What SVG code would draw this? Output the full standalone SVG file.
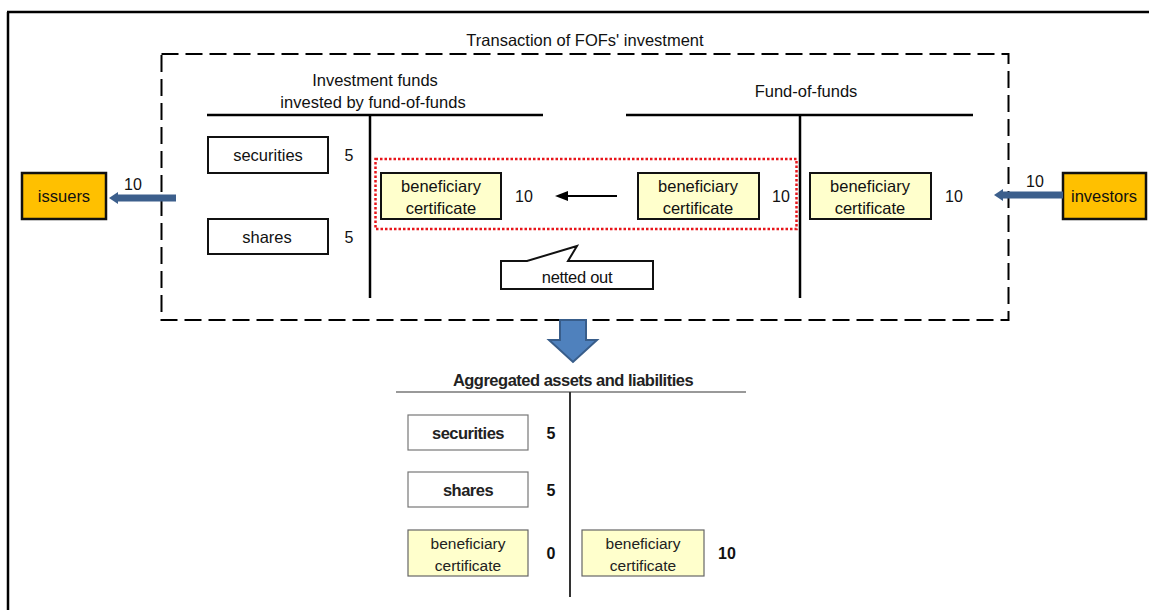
<svg xmlns="http://www.w3.org/2000/svg" width="1149" height="610" viewBox="0 0 1149 610">
<defs>
<style>
text{font-family:"Liberation Sans",Arial,sans-serif;fill:#111;}
.t{font-size:16.5px;text-anchor:middle;}
.n{font-size:16px;text-anchor:middle;}
.box{fill:#fff;stroke:#111;stroke-width:2;}
.bc{fill:#FFFFCC;stroke:#111;stroke-width:2;}
.org{fill:#FFC000;stroke:#111;stroke-width:2.5;}
.box2{fill:#fff;stroke:#777;stroke-width:1.2;}
.bc2{fill:#FFFFCC;stroke:#666;stroke-width:1.2;}
.tl{stroke:#000;stroke-width:2.5;fill:none;}
.blue{stroke:#3C5F8C;stroke-width:7;fill:none;}
.b2{font-size:16.5px;text-anchor:middle;font-weight:bold;letter-spacing:-0.5px;fill:#222;}
.b3{font-size:15.5px;text-anchor:middle;fill:#222;}
</style>
<marker id="bh" markerWidth="9" markerHeight="12" refX="1" refY="6" orient="auto" markerUnits="userSpaceOnUse">
<path d="M0,0 L9,6 L0,12 Z" fill="#3C5F8C"/>
</marker>
<marker id="ah" markerWidth="13" markerHeight="10" refX="1" refY="5" orient="auto" markerUnits="userSpaceOnUse">
<path d="M0,0 L13,5 L0,10 Z" fill="#000"/>
</marker>
</defs>
<g id="frame">
<line x1="7" y1="12" x2="1149" y2="12" stroke="#000" stroke-width="2.5"/>
<line x1="8" y1="12" x2="8" y2="610" stroke="#000" stroke-width="2.5"/>
</g>
<g id="transaction">
<rect x="161.5" y="54" width="847" height="266" fill="none" stroke="#000" stroke-width="2" stroke-dasharray="17,7"/>
<text x="585" y="46" class="t" font-size="16">Transaction of FOFs' investment</text>
</g>
<g id="left-account">
<text x="375" y="86" class="t" font-size="16">Investment funds</text>
<text x="373" y="108" class="t" font-size="16">invested by fund-of-funds</text>
<line x1="207" y1="115" x2="543" y2="115" class="tl"/>
<line x1="370" y1="115" x2="370" y2="298" class="tl"/>
</g>
<g id="right-account">
<text x="806" y="97" class="t" font-size="16">Fund-of-funds</text>
<line x1="626" y1="115" x2="973" y2="115" class="tl"/>
<line x1="800" y1="115" x2="800" y2="298" class="tl"/>
</g>
<g id="securities">
<rect x="208" y="137" width="120" height="36" class="box"/>
<text x="268" y="161" class="t">securities</text>
<text x="349" y="161" class="n">5</text>
</g>
<g id="shares">
<rect x="208" y="219" width="120" height="35" class="box"/>
<text x="267" y="243" class="t">shares</text>
<text x="349" y="243" class="n">5</text>
</g>
<g id="netting">
<rect x="375.5" y="159" width="421" height="70" fill="none" stroke="#E8141A" stroke-width="2.5" stroke-dasharray="2.5,2"/>
</g>
<g id="bc-left">
<rect x="381" y="173" width="120" height="46" class="bc"/>
<text x="441" y="192" class="t">beneficiary</text>
<text x="441" y="214" class="t">certificate</text>
<text x="524" y="202" class="n">10</text>
</g>
<g id="bc-mid">
<rect x="638" y="173" width="121" height="46" class="bc"/>
<text x="698" y="192" class="t">beneficiary</text>
<text x="698" y="214" class="t">certificate</text>
<text x="781" y="202" class="n">10</text>
</g>
<g id="bc-right">
<rect x="810" y="173" width="121" height="46" class="bc"/>
<text x="870" y="192" class="t">beneficiary</text>
<text x="870" y="214" class="t">certificate</text>
<text x="954" y="202" class="n">10</text>
</g>
<g id="netted-out">
<path d="M501,261 L527,261 L577,246 L568,261 L653,261 L653,289 L501,289 Z" fill="#fff" stroke="#111" stroke-width="2"/>
<text x="577" y="283" class="t" font-size="15.5" letter-spacing="-0.3">netted out</text>
</g>
<g id="issuers">
<rect x="22" y="173" width="84" height="46" class="org"/>
<text x="64" y="202" class="t">issuers</text>
</g>
<g id="investors">
<rect x="1063" y="173" width="83" height="46" class="org"/>
<text x="1104" y="202" class="t">investors</text>
</g>
<g id="connectors">
<line x1="176" y1="198" x2="117" y2="198" class="blue" marker-end="url(#bh)"/>
<text x="133" y="190" class="n">10</text>
<line x1="1063" y1="195" x2="1002" y2="195" class="blue" marker-end="url(#bh)"/>
<text x="1035" y="187" class="n">10</text>
<line x1="617" y1="196" x2="567" y2="196" stroke="#000" stroke-width="2" marker-end="url(#ah)"/>
<path d="M560,320 L586,320 L586,340 L597,340 L573,362 L549,340 L560,340 Z" fill="#4F81BD" stroke="#385D8A" stroke-width="2"/>
</g>
<g id="aggregated">
<text x="573" y="386" class="b2" font-size="16" letter-spacing="0">Aggregated assets and liabilities</text>
<line x1="396" y1="392" x2="746" y2="392" stroke="#777" stroke-width="1.5"/>
<line x1="570" y1="392" x2="570" y2="597" stroke="#333" stroke-width="2"/>
</g>
<g id="agg-securities">
<rect x="408" y="415" width="120" height="35" class="box2"/>
<text x="468" y="439" class="b2">securities</text>
<text x="551" y="439" class="n" font-weight="bold" font-size="15">5</text>
</g>
<g id="agg-shares">
<rect x="408" y="472" width="120" height="35" class="box2"/>
<text x="468" y="496" class="b2">shares</text>
<text x="551" y="496" class="n" font-weight="bold" font-size="15">5</text>
</g>
<g id="agg-bc-left">
<rect x="408" y="530" width="120" height="46" class="bc2"/>
<text x="468" y="549" class="b3">beneficiary</text>
<text x="468" y="571" class="b3">certificate</text>
<text x="551" y="559" class="n" font-weight="bold" font-size="15">0</text>
</g>
<g id="agg-bc-right">
<rect x="582" y="530" width="122" height="46" class="bc2"/>
<text x="643" y="549" class="b3">beneficiary</text>
<text x="643" y="571" class="b3">certificate</text>
<text x="727" y="559" class="n" font-weight="bold" font-size="15">10</text>
</g>
</svg>
